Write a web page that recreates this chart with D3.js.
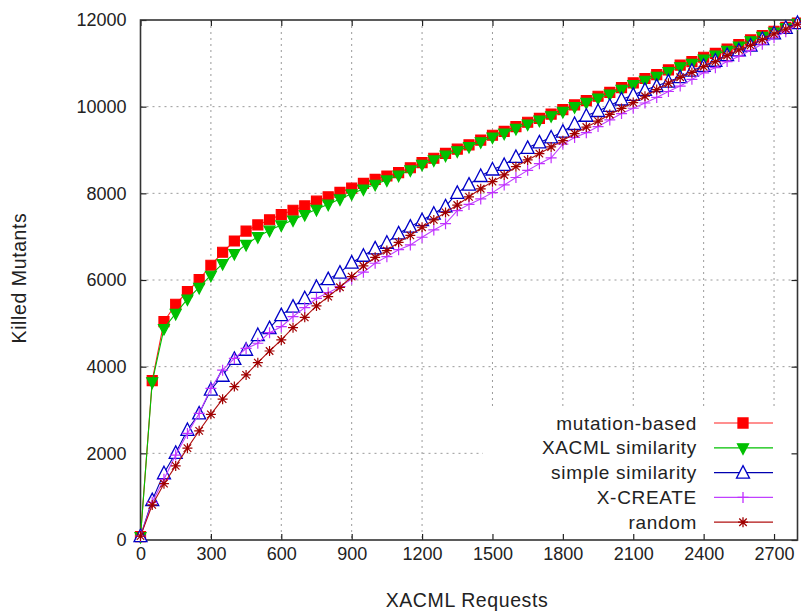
<!DOCTYPE html>
<html><head><meta charset="utf-8">
<script src="https://cdn.jsdelivr.net/npm/d3@7"></script>
<style>
html,body{margin:0;padding:0;background:#fff;}
svg{display:block;}
text{font-family:"Liberation Sans",Arial,sans-serif;fill:#222;}
</style></head>
<body>
<svg id="chart" width="801" height="615"></svg>
<script>
// ---- data ----
const requests = d3.range(0, 2801, 50);
const mutationBased = [80,3680,5040,5440,5730,6010,6340,6640,6900,7130,7270,7390,7510,7610,7710,7820,7920,8020,8120,8230,8320,8400,8480,8590,8710,8810,8920,9020,9120,9230,9340,9430,9540,9640,9730,9830,9930,10040,10140,10240,10330,10440,10550,10650,10740,10850,10960,11040,11140,11230,11330,11430,11540,11640,11740,11830,11930];
const xacmlSimilarity = [80,3650,4880,5230,5560,5830,6110,6380,6610,6820,7000,7150,7270,7385,7510,7630,7750,7870,7990,8100,8210,8310,8420,8540,8670,8770,8880,8980,9080,9190,9300,9390,9500,9600,9690,9790,9890,10000,10100,10200,10290,10400,10510,10610,10700,10810,10920,11000,11100,11190,11300,11400,11520,11620,11720,11820,11925];
const simpleSimilarity = [90,920,1540,2010,2540,2920,3470,3790,4180,4390,4730,4890,5190,5385,5580,5840,6020,6170,6400,6560,6730,6860,7075,7232,7380,7530,7700,8010,8200,8400,8550,8655,8840,9050,9175,9290,9424,9600,9790,9900,10020,10165,10271,10386,10475,10580,10680,10830,10940,11060,11190,11300,11410,11560,11690,11820,11930];
const xCreate = [90,870,1400,1960,2460,2920,3500,3920,4190,4420,4540,4785,4923,5154,5362,5578,5708,5847,6024,6180,6386,6539,6700,6809,6986,7155,7300,7600,7745,7870,8016,8193,8365,8530,8685,8820,9135,9290,9400,9540,9694,9840,9963,10085,10213,10350,10475,10630,10780,10900,11040,11160,11300,11440,11590,11730,11895];
const random = [90,810,1300,1710,2120,2520,2900,3250,3540,3810,4093,4362,4616,4900,5139,5401,5616,5832,6077,6324,6524,6678,6870,7030,7217,7386,7560,7730,7920,8105,8270,8424,8616,8770,8915,9070,9216,9380,9530,9665,9820,9960,10095,10240,10395,10540,10678,10790,10924,11040,11180,11309,11415,11545,11680,11790,11905];
const seriesNames = ["mutation-based","XACML similarity","simple similarity","X-CREATE","random"];
const xTicks = [0,300,600,900,1200,1500,1800,2100,2400,2700];
const yTicks = [0,2000,4000,6000,8000,10000,12000];

// ---- styles ----
const styles = [
  {line:"#ff2020", fill:"#ff0000", stroke:"#ff0000", sym:"square"},
  {line:"#00c000", fill:"#00c000", stroke:"#00c000", sym:"tridown"},
  {line:"#0000b0", fill:"#ffffff", stroke:"#0000c8", sym:"triup"},
  {line:"#c040ff", fill:"none", stroke:"#c030ff", sym:"plus"},
  {line:"#b01010", fill:"none", stroke:"#a00000", sym:"star"}
];
const allSeries = [mutationBased, xacmlSimilarity, simpleSimilarity, xCreate, random];

const svg = d3.select("#chart");
const L = 140.5, R = 797.5, T = 20, B = 540;
const x = d3.scaleLinear().domain([0,2800]).range([L,R]);
const y = d3.scaleLinear().domain([0,12000]).range([B,T]);

// grid
const grid = svg.append("g");
xTicks.filter(d=>d>0).forEach(d=>{
  grid.append("line").attr("x1",x(d)).attr("x2",x(d)).attr("y1",T).attr("y2",B)
    .attr("stroke","#9a9a9a").attr("stroke-width",1).attr("stroke-dasharray","2,4");
});
yTicks.filter(d=>d>0 && d<12000).forEach(d=>{
  grid.append("line").attr("x1",L).attr("x2",R).attr("y1",y(d)).attr("y2",y(d))
    .attr("stroke","#9a9a9a").attr("stroke-width",1).attr("stroke-dasharray","2,4");
});
// legend background masks grid
svg.append("rect").attr("x",483).attr("y",410).attr("width",R-483).attr("height",B-410).attr("fill","#fff");

// axes (ticks inward)
const ax = svg.append("g").attr("class","axes");
ax.append("g").attr("transform",`translate(0,${B})`)
  .call(d3.axisBottom(x).tickValues(xTicks).tickSize(-6).tickPadding(7).tickFormat(d3.format("d")))
  .call(g=>{g.select(".domain").remove(); g.selectAll("text").attr("font-size",18).attr("fill","#222");});
ax.append("g").attr("transform",`translate(0,${T})`)
  .call(d3.axisTop(x).tickValues(xTicks).tickSize(-6).tickFormat(""))
  .call(g=>g.select(".domain").remove());
ax.append("g").attr("transform",`translate(${L},0)`)
  .call(d3.axisLeft(y).tickValues(yTicks).tickSize(-6).tickPadding(14).tickFormat(d3.format("d")))
  .call(g=>{g.select(".domain").remove(); g.selectAll("text").attr("font-size",18).attr("fill","#222");});
ax.append("g").attr("transform",`translate(${R},0)`)
  .call(d3.axisRight(y).tickValues(yTicks).tickSize(-6).tickFormat(""))
  .call(g=>g.select(".domain").remove());
ax.selectAll(".tick line").attr("stroke","#222").attr("stroke-width",1.2);
ax.selectAll("text").style("font-family","'Liberation Sans',Arial,sans-serif");
svg.append("rect").attr("x",L).attr("y",T).attr("width",R-L).attr("height",B-T)
  .attr("fill","none").attr("stroke","#333").attr("stroke-width",1.6);

// marker path generator
function sym(type, s){
  const h = s/2;
  switch(type){
    case "square": return `M${-h},${-h}H${h}V${h}H${-h}Z`;
    case "tridown": return `M${-h-0.5},${-h+1}H${h+0.5}L0,${h+1.5}Z`;
    case "triup": return `M0,${-h-1.5}L${h+1},${h}H${-h-1}Z`;
    case "plus": return `M${-h},0H${h}M0,${-h}V${h}`;
    case "star": return `M${-h},0H${h}M0,${-h}V${h}M${-h*0.75},${-h*0.75}L${h*0.75},${h*0.75}M${-h*0.75},${h*0.75}L${h*0.75},${-h*0.75}`;
  }
}
const sizes = {square:10, tridown:10, triup:11, plus:11, star:10};

const line = d3.line().x(d=>x(d[0])).y(d=>y(d[1]));
allSeries.forEach((vals,i)=>{
  const st = styles[i];
  const pts = requests.map((r,j)=>[r, vals[j]]);
  const g = svg.append("g");
  g.append("path").datum(pts).attr("d",line).attr("fill","none").attr("stroke",st.line).attr("stroke-width",1.1);
  g.selectAll("path.m").data(pts).join("path").attr("class","m")
    .attr("transform",d=>`translate(${x(d[0])},${y(d[1])})`)
    .attr("d",sym(st.sym,sizes[st.sym]))
    .attr("fill",st.fill).attr("stroke",st.stroke).attr("stroke-width",st.sym==="triup"?1.3:1.2);
});

// legend
const lg = svg.append("g");
seriesNames.forEach((name,i)=>{
  const st = styles[i];
  const yy = 423 + i*24.8;
  lg.append("text").attr("x",697).attr("y",yy).attr("dy","0.35em").attr("text-anchor","end")
    .attr("font-size",19).attr("letter-spacing","0.7px").text(name);
  lg.append("line").attr("x1",714).attr("x2",773).attr("y1",yy).attr("y2",yy).attr("stroke",st.line).attr("stroke-width",1.2);
  lg.append("path").attr("transform",`translate(743,${yy})`).attr("d",sym(st.sym,sizes[st.sym]))
    .attr("fill",st.fill).attr("stroke",st.stroke).attr("stroke-width",1.3);
});

// axis titles
svg.append("text").attr("x",467).attr("y",607).attr("text-anchor","middle").attr("font-size",19.5).attr("letter-spacing","0.6px").text("XACML Requests");
svg.append("text").attr("transform","translate(26,278) rotate(-90)").attr("text-anchor","middle").attr("font-size",19.5).attr("letter-spacing","0.6px").text("Killed Mutants");
</script>
</body></html>
